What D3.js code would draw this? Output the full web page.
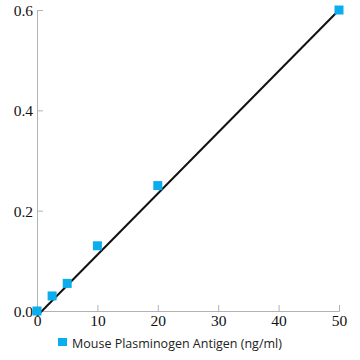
<!DOCTYPE html>
<html><head><meta charset="utf-8">
<script src="https://cdn.jsdelivr.net/npm/d3@7"></script>
<style>body{margin:0;background:#fff}svg{display:block}</style>
</head><body>
<svg id="c" width="360" height="360"></svg>
<script>
const xValues = [0, 2.5, 5, 10, 20, 50];
const yValues = [0, 0.03, 0.055, 0.13, 0.25, 0.6];
const xTicks = [0, 10, 20, 30, 40, 50];
const yTicks = [0.0, 0.2, 0.4, 0.6];
const fitX = [0, 50];
const fitY = [-0.01, 0.6];
const legendLabel = "Mouse Plasminogen Antigen (ng/ml)";

const svg = d3.select("#c");
const x = d3.scaleLinear().domain([0, 50]).range([37, 339]);
const y = d3.scaleLinear().domain([0, 0.6]).range([311, 10]);
const grey = "#b3b3b3";

const xa = svg.append("g").attr("transform", "translate(0,311)")
  .call(d3.axisBottom(x).tickValues(xTicks).tickSize(-6).tickPadding(4).tickFormat(d3.format("d")));
const ya = svg.append("g").attr("transform", "translate(37,0)")
  .call(d3.axisLeft(y).tickValues(yTicks).tickSize(-6).tickPadding(4).tickFormat(d3.format(".1f")));
[xa, ya].forEach(a => {
  a.select(".domain").attr("stroke", grey);
  a.selectAll(".tick line").attr("stroke", grey);
  a.selectAll(".tick text").attr("fill", "#111").attr("font-family", "Liberation Serif, serif").attr("font-size", 15.5);
});
ya.selectAll(".tick text").attr("dy", "0.35em");

svg.append("line")
  .attr("x1", x(fitX[0])).attr("y1", y(fitY[0]))
  .attr("x2", x(fitX[1])).attr("y2", y(fitY[1]))
  .attr("stroke", "#111").attr("stroke-width", 2);

const s = 9;
svg.append("g").selectAll("rect").data(xValues).join("rect")
  .attr("x", (d) => x(d) - s/2)
  .attr("y", (d, i) => y(yValues[i]) - s/2)
  .attr("width", s).attr("height", s)
  .attr("fill", "#0aaeef");

svg.append("rect").attr("x", 58).attr("y", 338).attr("width", 9).attr("height", 8).attr("fill", "#0aaeef");
svg.append("text").attr("x", 72).attr("y", 348).text(legendLabel)
  .attr("font-family", "Open Sans, sans-serif").attr("font-size", 12.5).attr("fill", "#222");
</script>
</body></html>
